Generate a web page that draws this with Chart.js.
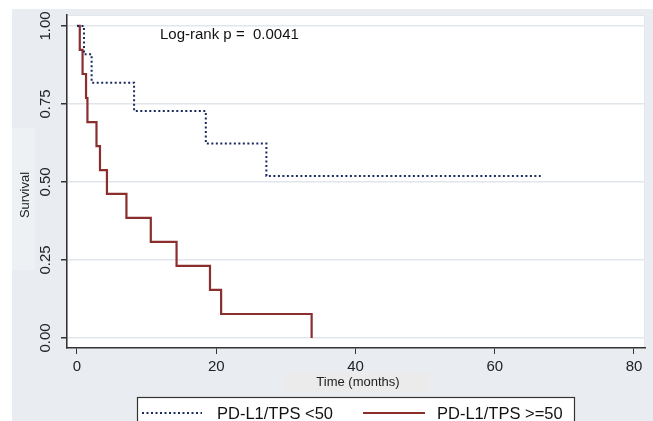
<!DOCTYPE html>
<html>
<head>
<meta charset="utf-8">
<style>
  html, body { margin: 0; padding: 0; background: #fff; }
  #km { display: block; }
</style>
</head>
<body>
<canvas id="km" width="653" height="421"></canvas>
<script src="https://cdn.jsdelivr.net/npm/chart.js@4.4.1/dist/chart.umd.min.js"></script>
<script>
// -------- Data --------
const seriesNames = ["PD-L1/TPS <50", "PD-L1/TPS >=50"];
const timeLow  = [0, 1.0, 2.1, 8.2, 18.5, 27.2, 66.6];
const survLow  = [1, 0.909, 0.818, 0.727, 0.623, 0.519, 0.519];
const timeHigh = [0, 0.4, 0.8, 1.3, 1.5, 2.8, 3.3, 4.3, 7.1, 10.6, 14.3, 19.1, 20.7, 33.7];
const survHigh = [1, 0.923, 0.846, 0.769, 0.692, 0.615, 0.538, 0.462, 0.385, 0.308, 0.231, 0.154, 0.077, 0];
const xTicks = [0, 20, 40, 60, 80];
const yTicks = [0, 0.25, 0.5, 0.75, 1];
const yTickLabels = ["0.00", "0.25", "0.50", "0.75", "1.00"];
const xTitle = "Time (months)";
const yTitle = "Survival";
const note = "Log-rank p =  0.0041";

const FONT = "Arial, 'Liberation Sans', sans-serif";
const toPts = (xs, ys) => xs.map((x, i) => ({ x, y: ys[i] }));

// -------- Stata-like frame, titles, legend --------
const frame = {
  id: "frame",
  beforeDraw(chart) {
    const { ctx, chartArea: a, width, height } = chart;
    ctx.save();
    ctx.fillStyle = "#ffffff";
    ctx.fillRect(0, 0, width, height);
    ctx.fillStyle = "#e9edf2";
    ctx.fillRect(12, 9, width - 12, height - 9);
    ctx.fillStyle = "#ffffff";
    ctx.fillRect(a.left, a.top, a.right - a.left, a.bottom - a.top);
    ctx.strokeStyle = "#e2e7ec";
    ctx.lineWidth = 1;
    ctx.strokeRect(a.left + 0.5, a.top + 0.5, a.right - a.left - 1, a.bottom - a.top - 1);
    // title boxes
    ctx.fillStyle = "#eef1f4";
    ctx.fillRect(12, 128, 23, 142);
    ctx.fillStyle = "#ecebec";
    ctx.fillRect(285, 373, 145, 19);
    ctx.restore();
  },
  afterDraw(chart) {
    const { ctx } = chart;
    const ys = chart.scales.y;
    ctx.save();
    ctx.fillStyle = "#222";
    // rotated y tick labels
    ctx.font = "15px " + FONT;
    ctx.textAlign = "center";
    ctx.textBaseline = "middle";
    yTicks.forEach((v, i) => {
      ctx.save();
      ctx.translate(46, ys.getPixelForValue(v));
      ctx.rotate(-Math.PI / 2);
      ctx.fillText(yTickLabels[i], 0, 0);
      ctx.restore();
    });
    // axis titles
    ctx.font = "13px " + FONT;
    ctx.save();
    ctx.translate(25, 195);
    ctx.rotate(-Math.PI / 2);
    ctx.fillText(yTitle, 0, 0);
    ctx.restore();
    ctx.fillText(xTitle, 358, 382);
    // log-rank note
    ctx.font = "15px " + FONT;
    ctx.textAlign = "left";
    ctx.fillStyle = "#111";
    ctx.fillText(note, 160, 35);
    // legend
    ctx.fillStyle = "#ffffff";
    ctx.fillRect(137, 397, 437, 40);
    ctx.strokeStyle = "#333";
    ctx.lineWidth = 1.2;
    ctx.strokeRect(137.5, 397.5, 437, 40);
    const items = [[142, 202, 217], [363, 425, 437]];
    chart.data.datasets.forEach((ds, i) => {
      const [x0, x1, tx] = items[i];
      ctx.strokeStyle = ds.borderColor;
      ctx.lineWidth = ds.borderWidth;
      ctx.setLineDash(ds.borderDash || []);
      ctx.beginPath();
      ctx.moveTo(x0, 413);
      ctx.lineTo(x1, 413);
      ctx.stroke();
      ctx.setLineDash([]);
      ctx.fillStyle = "#111";
      ctx.font = "16.5px " + FONT;
      ctx.fillText(ds.label, tx, 414);
    });
    ctx.restore();
  }
};

new Chart(document.getElementById("km"), {
  type: "line",
  data: {
    datasets: [
      {
        label: seriesNames[0],
        data: toPts(timeLow, survLow),
        borderColor: "#1b2a5e",
        borderWidth: 2,
        borderDash: [2, 2.5],
        stepped: "before",
        pointRadius: 0,
        fill: false
      },
      {
        label: seriesNames[1],
        data: toPts(timeHigh, survHigh),
        borderColor: "#8a2e2e",
        borderWidth: 2.2,
        stepped: "before",
        pointRadius: 0,
        fill: false
      }
    ]
  },
  options: {
    responsive: false,
    animation: false,
    layout: { padding: { left: 0, top: 15, right: 8, bottom: 0 } },
    plugins: { legend: { display: false }, tooltip: { enabled: false } },
    scales: {
      x: {
        type: "linear",
        min: -1.436,
        max: 81.58,
        afterBuildTicks: s => { s.ticks = xTicks.map(v => ({ value: v })); },
        afterFit: s => { s.height = 73; },
        grid: { drawOnChartArea: false, drawTicks: true, tickLength: 6, color: "#333", tickColor: "#333" },
        border: { display: true, color: "#333", width: 1.5 },
        ticks: { color: "#222", font: { family: FONT, size: 15 }, padding: 4, maxRotation: 0, callback: v => String(v) }
      },
      y: {
        min: -0.032,
        max: 1.035,
        afterBuildTicks: s => { s.ticks = yTicks.map(v => ({ value: v })); },
        afterFit: s => { s.width = 67; },
        grid: { color: "#e1e6eb", lineWidth: 1.5, tickLength: 6, tickColor: "#333" },
        border: { display: true, color: "#333", width: 1.5 },
        ticks: { display: false }
      }
    }
  },
  plugins: [frame]
});
</script>
</body>
</html>
